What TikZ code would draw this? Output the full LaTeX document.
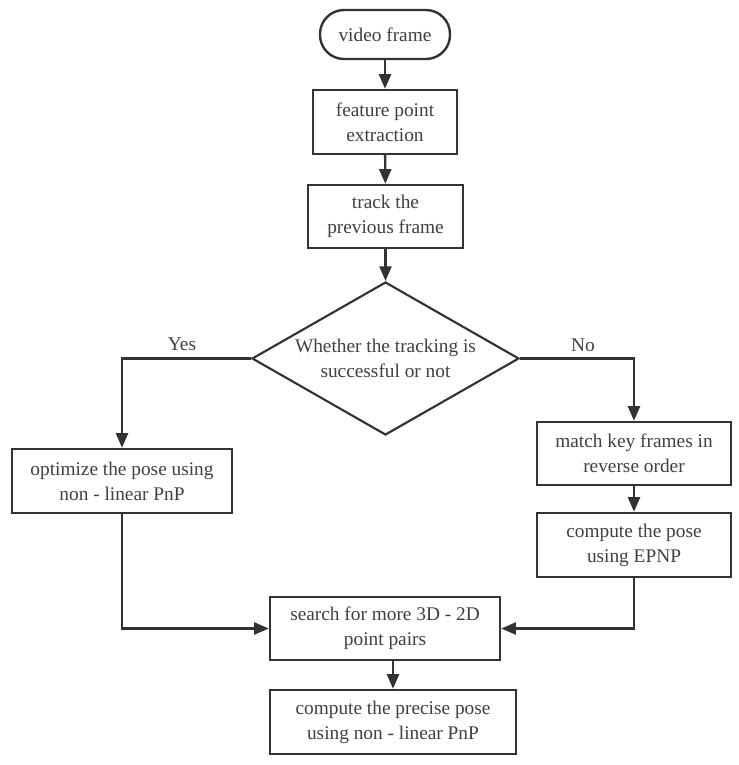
\documentclass[tikz,border=0pt]{standalone}
\usepackage{fontspec}
\setmainfont{Liberation Serif}
\usetikzlibrary{shapes.geometric,arrows.meta}
\definecolor{lc}{HTML}{333333}
\definecolor{tc}{HTML}{404040}
\tikzset{
  box/.style={draw=lc, line width=1.8pt, rectangle, align=center, text=tc, inner sep=2pt, font=\fontsize{14.5}{18.75}\selectfont},
  term/.style={box, rounded corners=18pt},
  dec/.style={draw=lc, line width=1.6pt, diamond, shape aspect=1.745, inner sep=0pt, align=center, text=tc, font=\fontsize{14.5}{18.75}\selectfont},
  arr/.style={draw=lc, line width=1.8pt, -{Triangle[length=11pt,width=9pt]}},
  lbl/.style={text=tc, font=\fontsize{14.5}{16}\selectfont}
}
\begin{document}
\begin{tikzpicture}[x=0.75pt,y=-0.75pt]
\useasboundingbox[fill=white] (0,0) rectangle (739,765);
\node[term, minimum width=97.5pt, minimum height=36.75pt] (vf) at (385,34.5) {video frame};
\node[box, minimum width=108pt, minimum height=48pt] (fe) at (385,122) {feature point\\extraction};
\node[box, minimum width=116.25pt, minimum height=47.25pt] (tr) at (385.5,216.5) {track the\\previous frame};
\node[dec, minimum width=200.25pt, minimum height=114.75pt] (dm) at (385.5,358.5) {Whether the tracking is\\successful or not};
\node[box, minimum width=165pt, minimum height=48pt] (op) at (122,481) {optimize the pose using\\non - linear PnP};
\node[box, minimum width=145.5pt, minimum height=47.25pt] (mk) at (634,453.5) {match key frames in\\reverse order};
\node[box, minimum width=145.5pt, minimum height=48pt] (ep) at (634,545) {compute the pose\\using EPNP};
\node[box, minimum width=172.5pt, minimum height=47.25pt] (se) at (385,628.5) {search for more 3D - 2D\\point pairs};
\node[box, minimum width=184.5pt, minimum height=48pt] (pr) at (393,722) {compute the precise pose\\using non - linear PnP};
\node[lbl] (yes) at (182,344) {Yes};
\node[lbl] (no) at (583,345) {No};
\draw[arr] (vf) -- (fe);
\draw[arr] (fe) -- (tr);
\draw[arr] (tr) -- (dm);
\draw[arr] (dm.west) -| (op.north);
\draw[arr] (dm.east) -| (mk.north);
\draw[arr] (mk) -- (ep);
\draw[arr] (op.south) |- (se.west);
\draw[arr] (ep.south) |- (se.east);
\draw[arr] (se.south -| pr.north) -- (pr.north);
\end{tikzpicture}
\end{document}
